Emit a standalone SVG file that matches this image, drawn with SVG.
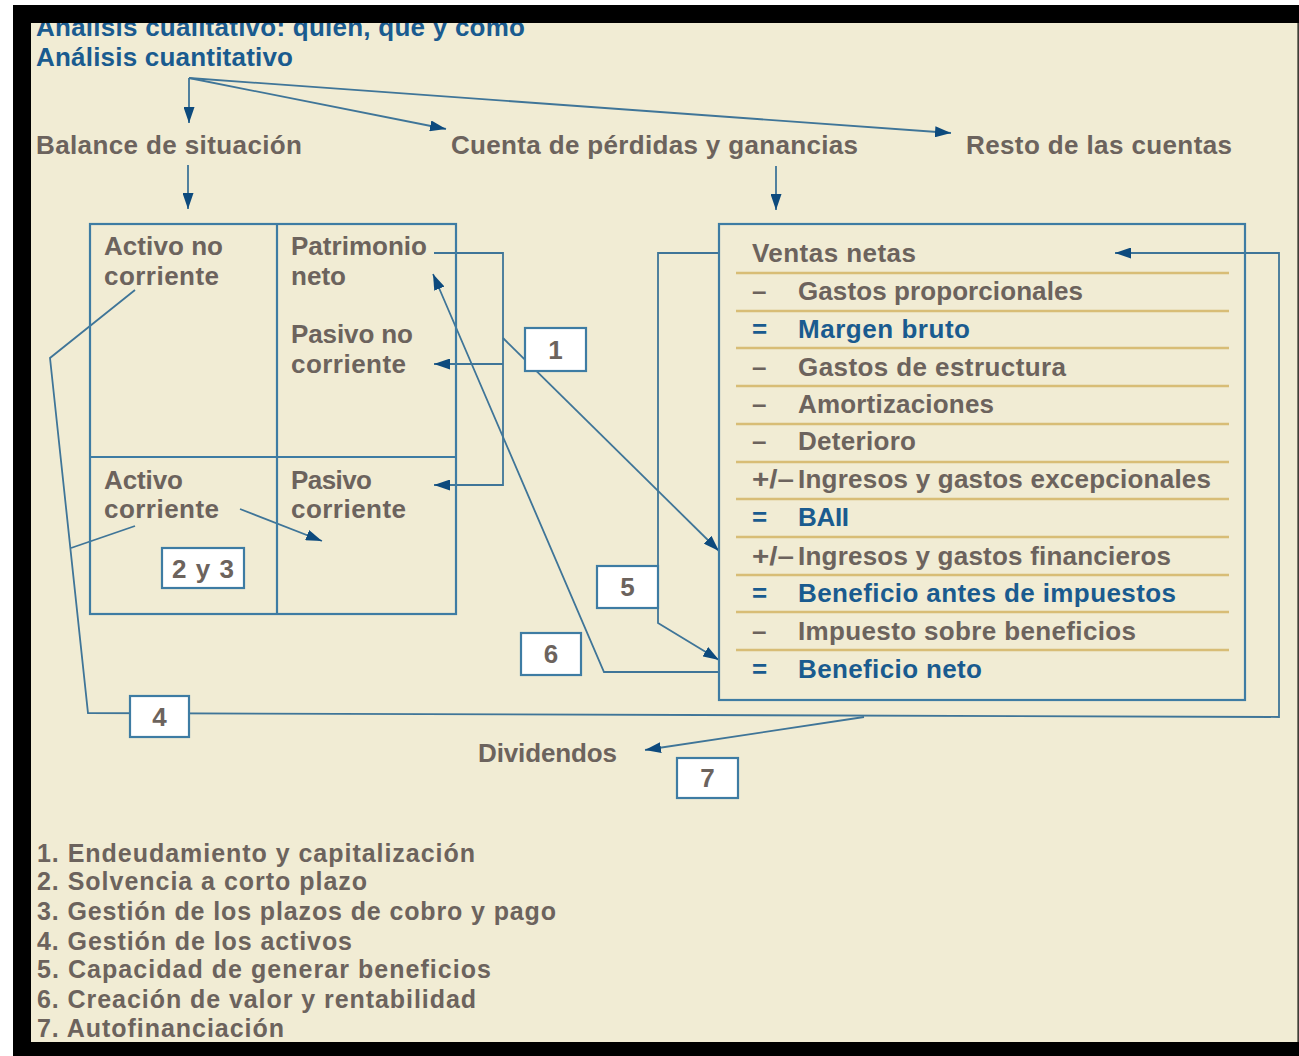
<svg xmlns="http://www.w3.org/2000/svg" width="1299" height="1056" viewBox="0 0 1299 1056">
<style>
.t{font-family:"Liberation Sans",Arial,Helvetica,sans-serif;font-weight:bold;font-size:26px}
.l{font-size:25px}
.g{fill:#6C635D}
.b{fill:#1A5B8F}
.c{fill:none;stroke:#3F7598;stroke-width:1.8}
.box{fill:none;stroke:#3E7CA3;stroke-width:2.2}
.nb{fill:#FFFFFF;stroke:#3E7CA3;stroke-width:2.2}
.sep{stroke:#D8BD76;stroke-width:2.6}
.num{text-anchor:middle}
</style>
<defs>
<marker id="ah" markerUnits="userSpaceOnUse" viewBox="0 0 16 11" refX="16" refY="5.5" markerWidth="16" markerHeight="11" orient="auto">
<path d="M0,0 L16,5.5 L0,11 z" fill="#0D4A7D"/>
</marker>
</defs>
<rect x="0" y="0" width="1299" height="1056" fill="#FFFFFF"/>
<rect x="13" y="5" width="1286" height="1051" fill="#000000"/>
<rect x="31" y="23" width="1267" height="1019" fill="#F1ECD4"/>
<line x1="1298" y1="23" x2="1298" y2="1042" stroke="#55544A" stroke-width="1.5"/>

<g id="titulo">
<text class="t b" x="36" y="36" textLength="489" lengthAdjust="spacing">Análisis cualitativo: quién, qué y cómo</text>
<text class="t b" x="36" y="66" textLength="257" lengthAdjust="spacing">Análisis cuantitativo</text>
</g>
<rect x="13" y="5" width="1286" height="18" fill="#000000"/>

<g id="connectors">
<line class="c" x1="189" y1="78" x2="189" y2="123" marker-end="url(#ah)"/>
<line class="c" x1="189" y1="78" x2="446" y2="129" marker-end="url(#ah)"/>
<line class="c" x1="189" y1="78" x2="951" y2="133" marker-end="url(#ah)"/>
<line class="c" x1="188" y1="165" x2="188" y2="209" marker-end="url(#ah)"/>
<line class="c" x1="776" y1="166" x2="776" y2="210" marker-end="url(#ah)"/>
<polyline class="c" points="434,253 503,253 503,485 434,485" marker-end="url(#ah)"/>
<line class="c" x1="503" y1="364" x2="434" y2="364" marker-end="url(#ah)"/>
<line class="c" x1="503" y1="338" x2="719" y2="551" marker-end="url(#ah)"/>
<polyline class="c" points="719,253 658,253 658,623 719,660" marker-end="url(#ah)"/>
<polyline class="c" points="719,672 604,672 433,274" marker-end="url(#ah)"/>
<polyline class="c" points="135,290 50,358 88,713 1279,717 1279,253 1115,253" marker-end="url(#ah)"/>
<line class="c" x1="135" y1="526" x2="71" y2="548"/>
<line class="c" x1="864" y1="717" x2="645" y2="750" marker-end="url(#ah)"/>
<line class="c" x1="240" y1="509" x2="322" y2="541" marker-end="url(#ah)"/>
</g>

<g id="encabezados">
<text class="t g" x="36" y="154" textLength="266" lengthAdjust="spacing">Balance de situación</text>
<text class="t g" x="451" y="154" textLength="407" lengthAdjust="spacing">Cuenta de pérdidas y ganancias</text>
<text class="t g" x="966" y="154" textLength="266" lengthAdjust="spacing">Resto de las cuentas</text>
</g>

<g id="balance">
<rect class="box" x="90" y="224" width="366" height="390"/>
<line class="box" x1="277" y1="224" x2="277" y2="614"/>
<line class="box" x1="90" y1="457" x2="456" y2="457"/>
<text class="t g" x="104" y="255" textLength="119" lengthAdjust="spacing">Activo no</text>
<text class="t g" x="104" y="285" textLength="115" lengthAdjust="spacing">corriente</text>
<text class="t g" x="291" y="255" textLength="136" lengthAdjust="spacing">Patrimonio</text>
<text class="t g" x="291" y="285" textLength="55" lengthAdjust="spacing">neto</text>
<text class="t g" x="291" y="343" textLength="122" lengthAdjust="spacing">Pasivo no</text>
<text class="t g" x="291" y="373" textLength="115" lengthAdjust="spacing">corriente</text>
<text class="t g" x="104" y="489" textLength="79" lengthAdjust="spacing">Activo</text>
<text class="t g" x="104" y="518" textLength="115" lengthAdjust="spacing">corriente</text>
<text class="t g" x="291" y="489" textLength="81" lengthAdjust="spacing">Pasivo</text>
<text class="t g" x="291" y="518" textLength="115" lengthAdjust="spacing">corriente</text>
</g>

<g id="pyg">
<rect class="box" x="719" y="224" width="526" height="476"/>
<line class="sep" x1="736" y1="273" x2="1229" y2="273"/>
<line class="sep" x1="736" y1="311" x2="1229" y2="311"/>
<line class="sep" x1="736" y1="348" x2="1229" y2="348"/>
<line class="sep" x1="736" y1="386" x2="1229" y2="386"/>
<line class="sep" x1="736" y1="424" x2="1229" y2="424"/>
<line class="sep" x1="736" y1="462" x2="1229" y2="462"/>
<line class="sep" x1="736" y1="499" x2="1229" y2="499"/>
<line class="sep" x1="736" y1="537" x2="1229" y2="537"/>
<line class="sep" x1="736" y1="575" x2="1229" y2="575"/>
<line class="sep" x1="736" y1="612" x2="1229" y2="612"/>
<line class="sep" x1="736" y1="650" x2="1229" y2="650"/>
<text class="t g" x="752" y="262" textLength="164" lengthAdjust="spacing">Ventas netas</text>
<text class="t g" x="752" y="300">–</text>
<text class="t g" x="798" y="300" textLength="285" lengthAdjust="spacing">Gastos proporcionales</text>
<text class="t b" x="752" y="338">=</text>
<text class="t b" x="798" y="338" textLength="172" lengthAdjust="spacing">Margen bruto</text>
<text class="t g" x="752" y="376">–</text>
<text class="t g" x="798" y="376" textLength="268" lengthAdjust="spacing">Gastos de estructura</text>
<text class="t g" x="752" y="413">–</text>
<text class="t g" x="798" y="413" textLength="196" lengthAdjust="spacing">Amortizaciones</text>
<text class="t g" x="752" y="450">–</text>
<text class="t g" x="798" y="450" textLength="118" lengthAdjust="spacing">Deterioro</text>
<text class="t g" x="752" y="488" textLength="42" lengthAdjust="spacingAndGlyphs">+/–</text>
<text class="t g" x="798" y="488" textLength="413" lengthAdjust="spacing">Ingresos y gastos excepcionales</text>
<text class="t b" x="752" y="526">=</text>
<text class="t b" x="798" y="526" textLength="51" lengthAdjust="spacing">BAII</text>
<text class="t g" x="752" y="565" textLength="42" lengthAdjust="spacingAndGlyphs">+/–</text>
<text class="t g" x="798" y="565" textLength="373" lengthAdjust="spacing">Ingresos y gastos financieros</text>
<text class="t b" x="752" y="602">=</text>
<text class="t b" x="798" y="602" textLength="378" lengthAdjust="spacing">Beneficio antes de impuestos</text>
<text class="t g" x="752" y="640">–</text>
<text class="t g" x="798" y="640" textLength="338" lengthAdjust="spacing">Impuesto sobre beneficios</text>
<text class="t b" x="752" y="678">=</text>
<text class="t b" x="798" y="678" textLength="184" lengthAdjust="spacing">Beneficio neto</text>
</g>

<g id="n1"><rect class="nb" x="525" y="328" width="61" height="43"/><text class="t g num" x="555.5" y="359">1</text></g>
<g id="n23"><rect class="nb" x="162" y="548" width="82" height="40"/><text class="t g num" x="203" y="578" textLength="62" lengthAdjust="spacing">2 y 3</text></g>
<g id="n5"><rect class="nb" x="597" y="566" width="61" height="42"/><text class="t g num" x="627.5" y="596">5</text></g>
<g id="n6"><rect class="nb" x="521" y="633" width="60" height="42"/><text class="t g num" x="551" y="663">6</text></g>
<g id="n4"><rect class="nb" x="130" y="696" width="59" height="41"/><text class="t g num" x="159.5" y="726">4</text></g>
<g id="n7"><rect class="nb" x="677" y="758" width="61" height="40"/><text class="t g num" x="707.5" y="787">7</text></g>

<g id="dividendos">
<text class="t g" x="478" y="762" textLength="139" lengthAdjust="spacing">Dividendos</text>
</g>

<g id="leyenda">
<text class="t l g" x="37" y="862" textLength="438" lengthAdjust="spacing">1. Endeudamiento y capitalización</text>
<text class="t l g" x="37" y="890" textLength="330" lengthAdjust="spacing">2. Solvencia a corto plazo</text>
<text class="t l g" x="37" y="920" textLength="519" lengthAdjust="spacing">3. Gestión de los plazos de cobro y pago</text>
<text class="t l g" x="37" y="950" textLength="315" lengthAdjust="spacing">4. Gestión de los activos</text>
<text class="t l g" x="37" y="978" textLength="454" lengthAdjust="spacing">5. Capacidad de generar beneficios</text>
<text class="t l g" x="37" y="1008" textLength="439" lengthAdjust="spacing">6. Creación de valor y rentabilidad</text>
<text class="t l g" x="37" y="1037" textLength="247" lengthAdjust="spacing">7. Autofinanciación</text>
</g>
</svg>
